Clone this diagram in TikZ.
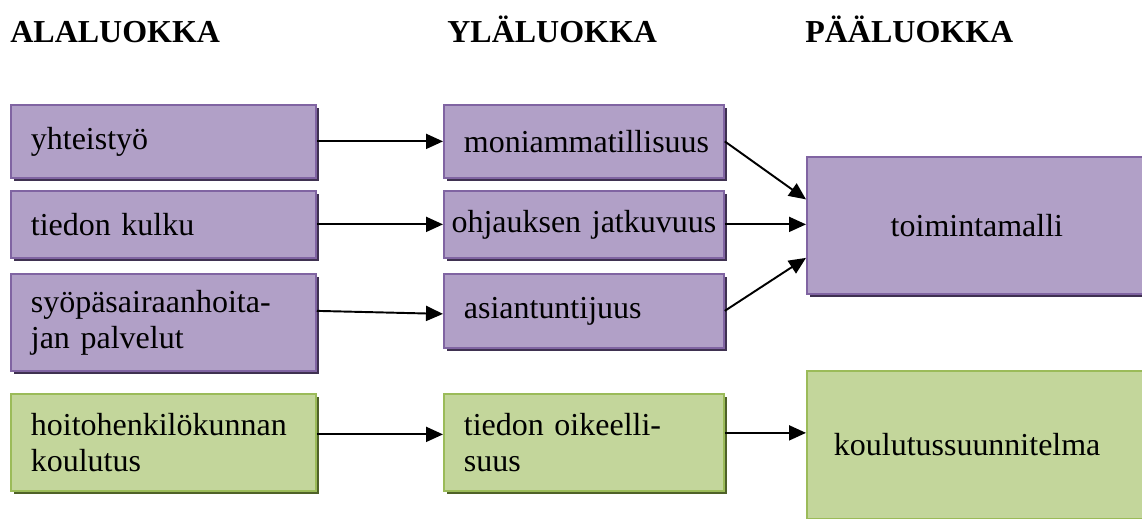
\documentclass[tikz,border=0pt]{standalone}
\usepackage{fontspec}
\setmainfont{Liberation Serif}
\usetikzlibrary{arrows.meta,shadows}
\definecolor{lila}{HTML}{B1A0C7}
\definecolor{lilareuna}{HTML}{8064A2}
\definecolor{lilavarjo}{HTML}{3F3151}
\definecolor{vihrea}{HTML}{C3D69B}
\definecolor{vihreareuna}{HTML}{9BBB59}
\definecolor{vihreavarjo}{HTML}{4F6228}
\begin{document}
\begin{tikzpicture}[>={Triangle[length=0.34cm,width=0.3cm]},
  every node/.style={font=\fontsize{18.2pt}{20.5pt}\selectfont},
  otsikko/.style={font=\fontsize{18.2pt}{20.5pt}\selectfont\bfseries, anchor=base west, inner sep=0pt},
  laatikko/.style={draw, line width=1pt, anchor=north west, align=left, inner ysep=0pt},
  lilabox/.style={laatikko, fill=lila, draw=lilareuna,
    drop shadow={shadow xshift=0.06cm, shadow yshift=-0.06cm, fill=lilavarjo, opacity=1}},
  vihreabox/.style={laatikko, fill=vihrea, draw=vihreareuna,
    drop shadow={shadow xshift=0.06cm, shadow yshift=-0.06cm, fill=vihreavarjo, opacity=1}},
  alabox/.style={inner xsep=0.4cm, text width=5.3cm},
  ylabox/.style={inner xsep=0.4cm, text width=4.8cm},
  yhteys/.style={->, line width=1.1pt}]
\useasboundingbox (0,0) rectangle (22.84,-10.36);
% otsikot
\node[otsikko] (ala) at (0.2,-0.84) {ALALUOKKA};
\node[otsikko] (yla) at (8.94,-0.84) {YLÄLUOKKA};
\node[otsikko] (paa) at (16.1,-0.84) {PÄÄLUOKKA};
% alaluokat
\node[lilabox, alabox, minimum height=1.46cm] (yhteistyo) at (0.2,-2.08) {yhteistyö};
\node[lilabox, alabox, minimum height=1.34cm] (kulku) at (0.2,-3.8) {tiedon kulku};
\node[lilabox, alabox, minimum height=1.94cm] (palvelut) at (0.2,-5.46) {syöpäsairaanhoita-\\jan palvelut};
\node[vihreabox, alabox, minimum height=1.94cm] (koulutus) at (0.2,-7.86) {hoitohenkilökunnan\\koulutus};
% yläluokat
\node[lilabox, ylabox, minimum height=1.46cm] (moniamm) at (8.86,-2.08) {moniammatillisuus};
\node[lilabox, minimum height=1.34cm, inner xsep=0.1cm, text width=5.4cm, align=center] (jatkuvuus) at (8.86,-3.8) {ohjauksen jatkuvuus};
\node[lilabox, ylabox, minimum height=1.48cm] (asiantunt) at (8.86,-5.46) {asiantuntijuus};
\node[vihreabox, ylabox, minimum height=1.94cm] (oikeell) at (8.86,-7.86) {tiedon oikeelli-\\suus};
% pääluokat
\node[lilabox, minimum height=2.74cm, inner xsep=0.2cm, text width=6.4cm, align=center] (toimintamalli) at (16.12,-3.12) {toimintamalli};
\node[vihreabox, minimum height=2.96cm, inner xsep=0.54cm, text width=5.72cm] (suunnitelma) at (16.12,-7.4) {koulutussuunnitelma};
% nuolet
\draw[yhteys] (yhteistyo.east) -- (moniamm.west);
\draw[yhteys] (kulku.east) -- (jatkuvuus.west);
\draw[yhteys] (palvelut.east |- asiantunt.west) -- ([yshift=-0.06cm]asiantunt.west);
\draw[yhteys] ([yshift=0.16cm]koulutus.east) -- ([yshift=0.16cm]oikeell.west);
\draw[yhteys] (moniamm.east) -- ([yshift=0.52cm]toimintamalli.west);
\draw[yhteys] (jatkuvuus.east) -- (toimintamalli.west |- jatkuvuus.east);
\draw[yhteys] (asiantunt.east) -- ([yshift=-0.65cm]toimintamalli.west);
\draw[yhteys] ([yshift=0.19cm]oikeell.east) -- ([yshift=0.19cm]oikeell.east -| suunnitelma.west);
\end{tikzpicture}
\end{document}
